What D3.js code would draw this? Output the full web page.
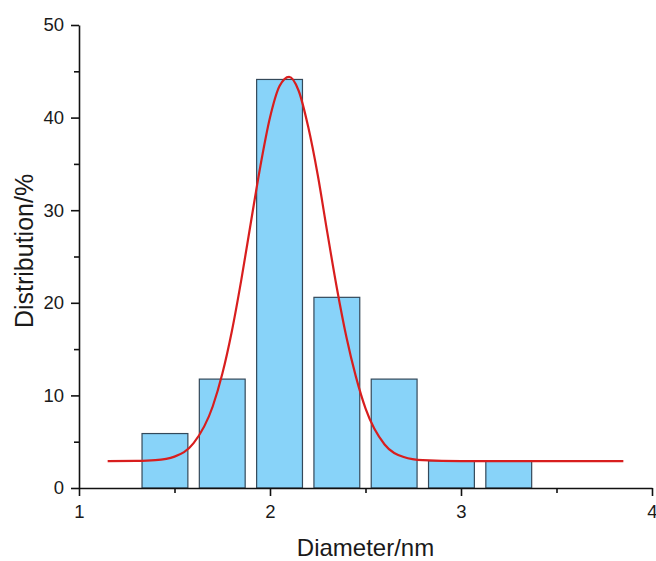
<!DOCTYPE html>
<html>
<head>
<meta charset="utf-8">
<script src="https://cdn.jsdelivr.net/npm/d3@7"></script>
<style>
  body { margin: 0; background: #fff; }
  text { font-family: "Liberation Sans", Arial, sans-serif; fill: #1a1a1a; }
</style>
</head>
<body>
<svg id="chart" width="656" height="561"></svg>
<script>
// histogram bins (bin centre, nm) and share of particles (%)
var binCenters = [1.45, 1.75, 2.05, 2.35, 2.65, 2.95, 3.25];
var binValues = [5.88, 11.76, 44.12, 20.59, 11.76, 2.94, 2.94];
var barWidth = 0.24;

// fitted curve, points
var fitX = [1.15, 1.3, 1.4, 1.5, 1.6, 1.7, 1.75, 1.8, 1.85, 1.9, 1.95, 2.0, 2.05, 2.1,
            2.15, 2.2, 2.25, 2.3, 2.35, 2.4, 2.45, 2.5, 2.6, 2.7, 2.8, 3.0, 3.85];
var fitY = [2.9, 2.92, 3.0, 3.39, 4.84, 8.8, 12.3, 16.9, 22.5, 28.7, 34.8, 40.0, 43.4, 44.4,
            42.9, 39.0, 33.8, 27.6, 21.6, 16.3, 12.0, 8.6, 4.7, 3.35, 3.0, 2.9, 2.9];

var xTicks = [1, 2, 3, 4];
var xMinor = [1.5, 2.5, 3.5];
var yTicks = [0, 10, 20, 30, 40, 50];
var yMinor = [5, 15, 25, 35, 45];

var svg = d3.select("#chart");
var plotLeft = 79, plotTop = 25, plotW = 573, plotH = 463;

var x = d3.scaleLinear().domain([1, 4]).range([plotLeft, plotLeft + plotW]);
var y = d3.scaleLinear().domain([0, 50]).range([plotTop + plotH, plotTop]);

// bars
svg.append("g")
  .selectAll("rect")
  .data(binCenters)
  .enter().append("rect")
    .attr("x", function (d) { return x(d - barWidth / 2); })
    .attr("y", function (d, i) { return y(binValues[i]); })
    .attr("width", function (d) { return x(d + barWidth / 2) - x(d - barWidth / 2); })
    .attr("height", function (d, i) { return y(0) - y(binValues[i]); })
    .style("fill", "#88d3f9")
    .style("stroke", "#34495a")
    .style("stroke-width", 1.2);

// fit curve
var line = d3.line()
  .x(function (d) { return x(d); })
  .y(function (d, i) { return y(fitY[i]); })
  .curve(d3.curveMonotoneX);

svg.append("path")
  .attr("d", line(fitX))
  .style("fill", "none")
  .style("stroke", "#d81e1e")
  .style("stroke-width", 2.2);

// axes
svg.append("g")
  .attr("transform", "translate(0," + (plotTop + plotH) + ")")
  .call(d3.axisBottom(x).tickValues(xTicks).tickSize(8).tickSizeOuter(0).tickPadding(9)
    .tickFormat(d3.format("d")));
svg.append("g")
  .attr("transform", "translate(0," + (plotTop + plotH) + ")")
  .call(d3.axisBottom(x).tickValues(xMinor).tickSize(5).tickSizeOuter(0).tickFormat(""))
  .select(".domain").remove();

svg.append("g")
  .attr("transform", "translate(" + plotLeft + ",0)")
  .call(d3.axisLeft(y).tickValues(yTicks).tickSize(8).tickSizeOuter(0).tickPadding(7));
svg.append("g")
  .attr("transform", "translate(" + plotLeft + ",0)")
  .call(d3.axisLeft(y).tickValues(yMinor).tickSize(5).tickSizeOuter(0).tickFormat(""))
  .select(".domain").remove();

svg.selectAll(".domain, .tick line")
  .style("stroke", "#111")
  .style("stroke-width", 1.6);
svg.selectAll(".tick text")
  .style("font-size", "18.5px")
  .style("font-family", "Liberation Sans, Arial, sans-serif")
  .style("fill", "#1a1a1a");

// axis titles
svg.append("text")
  .attr("x", plotLeft + plotW / 2)
  .attr("y", 556)
  .attr("text-anchor", "middle")
  .style("font-size", "24px")
  .text("Diameter/nm");

svg.append("text")
  .attr("transform", "translate(33,251) rotate(-90)")
  .attr("text-anchor", "middle")
  .style("font-size", "25px")
  .text("Distribution/%");
</script>
</body>
</html>
